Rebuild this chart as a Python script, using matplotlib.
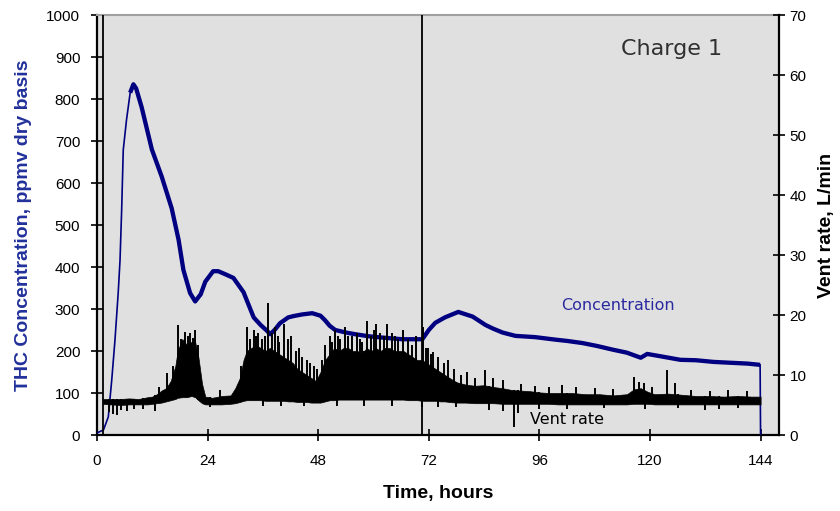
import matplotlib
matplotlib.use("Agg")
import matplotlib.pyplot as plt
import numpy as np

plt.rcParams['font.family'] = ['Liberation Sans', 'DejaVu Sans']

# THC concentration, ppmv
conc_t = [0, 1.4, 2.45, 3.2, 3.9, 4.6, 5.0, 5.35, 5.7, 6.4, 7.2, 7.9, 8.5, 9.7, 11.9,
          14.05, 16.2, 17.7, 18.75, 20.2, 21.3, 22.5, 23.5, 25.2, 26.3, 28, 29.6, 31.8,
          34, 35.5, 36.9, 37.6, 38.7, 39.7, 41.5, 42.6, 44.5, 46.7, 48.5, 49.5, 50.5,
          51.7, 54, 56, 59, 61.9, 64, 66.2, 68.5, 70.6, 72, 73.4, 75.5, 78.4, 81.5,
          84.3, 86, 88, 90.8, 95.1, 99.5, 102, 105.3, 108.5, 112, 115, 118, 119.4, 122,
          126.6, 130, 133.8, 137.5, 141.2, 143.9, 144.0]
conc = [5, 12, 43, 131, 226, 338, 417, 536, 679, 750, 815, 835, 825, 780, 680,
        615, 540, 465, 393, 338, 318, 335, 365, 390, 390, 382, 374, 340,
        280, 262, 248, 240, 252, 266, 280, 283, 287, 290, 284, 273, 260,
        250, 244, 240, 235, 232, 230, 228, 228, 228, 250, 267, 280, 293, 282,
        262, 253, 244, 236, 233, 227, 224, 219, 212, 203, 196, 184, 193, 188,
        179, 178, 174, 172, 170, 167, 0]

# Vent rate, L/min: dense band (low / high edge of the noisy trace)
vent_t = [1.3, 3, 5, 7, 9, 11, 12, 13, 14, 15, 16, 17, 17.5, 18.5, 19.5, 20.5, 21.3,
          22, 22.8, 23.5, 25, 27, 29, 30, 31, 31.8, 32.5, 33.5, 34.5, 35.5, 36.5,
          37.5, 38.5, 39.5, 40.5, 41.5, 42.5, 43.5, 44.5, 45.5, 46.5, 47.5, 48.5,
          49.5, 50.5, 51.5, 52.5, 53.5, 54.5, 55.5, 56.5, 57.5, 58.5, 59.5, 60.5,
          61.5, 62.5, 63.5, 64.5, 65.5, 66.5, 67.5, 68.5, 69.5, 70.5, 71.5, 72.5,
          73.5, 74.5, 75.5, 76.5, 78, 80, 82, 84, 86, 88, 90, 92, 94, 96, 98, 100,
          103, 106, 109, 112, 115, 116.5, 118, 119.5, 121, 124, 127, 130, 133, 136,
          139, 142, 144]
vent_hi = [6.0, 6.0, 6.0, 6.1, 6.0, 6.3, 6.4, 6.8, 7.4, 7.8, 9.0, 11.5, 14.0, 16.0,
           15.0, 15.5, 15.5, 13.0, 8.5, 6.4, 6.2, 6.5, 6.6, 7.8, 9.5, 12.5, 14.0,
           14.5, 15.0, 14.5, 14.0, 14.5, 14.0, 13.5, 13.0, 12.5, 12.0, 11.0, 10.5,
           10.0, 9.5, 9.0, 10.5, 12.5, 13.5, 14.5, 14.0, 14.5, 14.5, 14.0, 14.0,
           13.5, 14.5, 14.0, 14.5, 14.0, 14.5, 14.5, 14.0, 14.0, 14.0, 13.5, 13.0,
           12.5, 12.5, 12.0, 11.5, 11.0, 10.5, 10.0, 9.5, 8.8, 8.4, 8.2, 8.3, 8.0,
           7.8, 7.5, 7.4, 7.3, 7.1, 7.0, 7.0, 7.0, 6.8, 6.8, 6.6, 6.8, 7.6, 7.8,
           7.2, 6.8, 6.9, 6.7, 6.5, 6.5, 6.4, 6.5, 6.4, 6.4]
vent_lo = [5.2, 5.1, 5.0, 5.1, 5.1, 5.1, 5.2, 5.3, 5.4, 5.6, 5.8, 6.0, 6.2, 6.3,
           6.3, 6.5, 6.3, 5.8, 5.3, 5.1, 5.1, 5.1, 5.2, 5.3, 5.5, 5.7, 5.8, 5.8,
           5.8, 5.8, 5.7, 5.7, 5.7, 5.7, 5.7, 5.6, 5.6, 5.5, 5.5, 5.5, 5.4, 5.4,
           5.4, 5.6, 5.8, 5.8, 5.9, 5.9, 5.9, 5.9, 5.9, 5.9, 5.9, 5.9, 5.9, 5.9,
           5.9, 5.9, 5.9, 5.9, 5.9, 5.8, 5.8, 5.8, 5.7, 5.7, 5.7, 5.7, 5.6, 5.6,
           5.5, 5.4, 5.4, 5.3, 5.3, 5.3, 5.2, 5.2, 5.2, 5.2, 5.2, 5.2, 5.1, 5.1,
           5.1, 5.1, 5.1, 5.1, 5.2, 5.2, 5.2, 5.1, 5.1, 5.1, 5.1, 5.1, 5.1, 5.1,
           5.1, 5.1]

# upward spikes of the vent trace (time, peak L/min)
spike_t = [13.5, 15.2, 16.6, 17.6, 18.2, 18.8, 19.1, 19.7, 20.2, 20.8, 21.3, 21.9,
           26.7, 31.2, 32.5, 33.2, 34, 34.6, 35, 35.8, 36.4, 37.1, 38, 38.7, 39.2,
           39.6, 40.5, 41.5, 42.1, 43.2, 43.8, 44.5, 45.5, 46.3, 47.1, 47.8, 48.9,
           49.5, 50.5, 51.1, 51.7, 52.3, 52.8, 53.8, 54.5, 55.4, 56.5, 57.1, 57.6,
           58.5, 59.5, 60.1, 60.5, 61.5, 62.2, 63, 64, 64.7, 65.4, 66.5, 67.5, 68.4,
           69.3, 70.8, 71.3, 71.8, 72.5, 73, 74, 75.2, 76.2, 77.5, 79, 80.3, 82,
           84.3, 86, 88, 92, 95, 98, 101, 104, 108, 112, 116.5, 117.6, 118.6, 120.5,
           123.6, 125.5, 129, 133, 137, 141]
spike_v = [8.0, 10.3, 11.5, 18.3, 16, 15.5, 17.2, 16.5, 17, 16.2, 17.5, 15,
           7.5, 11.5, 18, 16, 17.5, 16.5, 17, 16, 16.5, 22, 17, 18, 16.5,
           15.5, 18.5, 16, 16.5, 14, 14.5, 13, 12.5, 12, 11.5, 11, 12.5,
           15, 16.5, 15.5, 17.5, 16.5, 16, 18, 16.5, 16.5, 17, 16, 15.5,
           19, 16.5, 17.5, 18.5, 17, 16.5, 18.5, 17, 16.5, 16, 17.5, 16, 15,
           16.5, 18, 14.5, 14.5, 13.5, 13.8, 13, 12, 12.5, 11, 10, 10.5, 9.5,
           10.8, 9.5, 9.2, 8.5, 8.2, 8, 8.3, 8, 7.8, 7.6, 9.7, 8.8, 8.7, 8,
           10.8, 8.7, 7.5, 7.4, 7.5, 7.3]

# downward dips of the vent trace (time, bottom L/min)
dip_t = [2.5, 3.5, 4.3, 5.2, 6.5, 8, 10, 12.5, 24.5, 36, 40, 45, 52, 58, 64, 70.5,
         74, 78, 85, 88, 90.4, 91.4, 96, 102, 110, 119, 126, 132, 135, 139]
dip_v = [3.8, 3.5, 3.3, 4.2, 4.0, 4.3, 4.4, 4.0, 4.6, 4.8, 4.8, 4.9, 4.8, 4.8, 4.8,
         4.6, 4.7, 4.6, 4.2, 4.0, 1.3, 3.7, 4.3, 4.3, 4.5, 4.4, 4.5, 4.2, 4.4, 4.5]

marker_t = [1.3, 70.5]
x_ticks = [0, 24, 48, 72, 96, 120, 144]

navy = '#000080'

fig = plt.figure(figsize=(8.4, 5.11), dpi=100)
ax = fig.add_axes([97 / 840, 1 - 435 / 511, (779 - 97) / 840, 420 / 511])
ax.set_facecolor('#e0e0e0')
ax.set_xlim(0, 148)
ax.set_ylim(0, 1000)

# concentration: thin on the rise, thick (noisy) afterwards
k = conc_t.index(7.2)
ax.plot(conc_t[:k + 1], conc[:k + 1], color=navy, lw=1.2, zorder=3)
ax.plot(conc_t[k:-1], conc[k:-1], color=navy, lw=3.1, solid_capstyle='butt', zorder=3)
ax.plot(conc_t[-2:], conc[-2:], color=navy, lw=1.2, zorder=3)

ax2 = ax.twinx()
ax2.set_ylim(0, 70)
ax2.fill_between(vent_t, vent_lo, vent_hi, color='black', lw=0.5)
ax2.vlines(spike_t, np.interp(spike_t, vent_t, vent_lo), spike_v, color='black', lw=1.4)
ax2.vlines(dip_t, dip_v, np.interp(dip_t, vent_t, vent_hi), color='black', lw=1.4)
for t in marker_t:
    ax2.axvline(t, color='black', lw=1.3)

# axes styling
ax.set_xticks(x_ticks)
ax.set_yticks(range(0, 1001, 100))
ax2.set_yticks(range(0, 71, 10))
ax.tick_params(axis='both', direction='inout', length=8, width=1.2, labelsize=11)
ax2.tick_params(axis='y', direction='inout', length=8, width=1.2, labelsize=11)
ax.tick_params(axis='x', pad=10)
ax.tick_params(axis='y', pad=8)
for s in ('left', 'bottom'):
    ax.spines[s].set_linewidth(1.6)
ax.spines['right'].set_visible(False)
ax.spines['top'].set_color('#a0a0a0')
ax.spines['top'].set_linewidth(1.5)
for s in ('left', 'bottom', 'top'):
    ax2.spines[s].set_visible(False)
ax2.spines['right'].set_linewidth(1.6)

ax.set_xlabel('Time, hours', fontsize=14, fontweight='bold', labelpad=12)
ax.set_ylabel('THC Concentration, ppmv dry basis', fontsize=14, fontweight='bold',
              color='#22309a', labelpad=10)
ax2.set_ylabel('Vent rate, L/min', fontsize=14, fontweight='bold', rotation=90, labelpad=8)

ax.text(0.768, 0.905, 'Charge 1', transform=ax.transAxes, fontsize=16,
        color='#303030', family='DejaVu Sans')
ax.text(0.68, 0.297, 'Concentration', transform=ax.transAxes, fontsize=11.5,
        color='#2a2aa0', family='DejaVu Sans')
ax.text(0.635, 0.027, 'Vent rate', transform=ax.transAxes, fontsize=11.5,
        color='black', family='DejaVu Sans')

fig.savefig('out.png', dpi=100)
